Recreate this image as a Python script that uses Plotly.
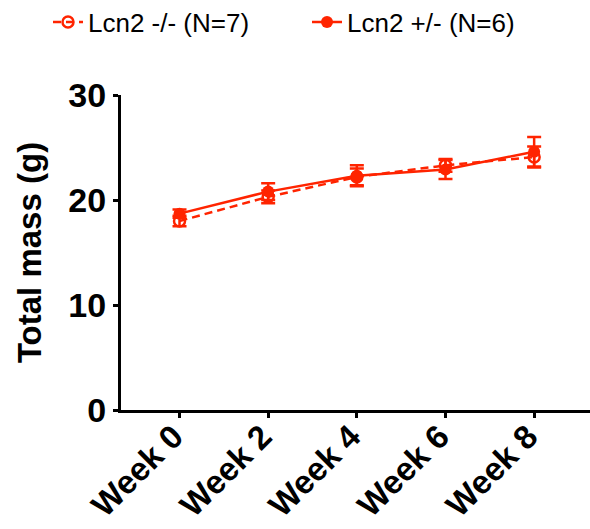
import plotly.graph_objects as go

weeks = ["Week 0", "Week 2", "Week 4", "Week 6", "Week 8"]
ko_mean = [18.0, 20.3, 22.2, 23.3, 24.1]
ko_err = [0.5, 0.6, 0.8, 0.6, 1.0]
het_mean = [18.7, 20.8, 22.3, 22.9, 24.6]
het_err = [0.4, 0.8, 1.0, 0.9, 1.4]
y_ticks = [0, 10, 20, 30]

RED = "#FF2400"
FONT = "Liberation Sans, Arial, sans-serif"
W, H = 590, 529

fig = go.Figure()
fig.add_trace(go.Scatter(
    x=weeks, y=ko_mean, name="Lcn2 -/- (N=7)", mode="lines+markers",
    line=dict(color=RED, width=2.5, dash="8px,5px"),
    marker=dict(symbol="circle-open", size=11, color=RED, line=dict(width=2.5, color=RED)),
    error_y=dict(type="data", array=ko_err, color=RED, thickness=2.5, width=7),
    legend="legend",
))
fig.add_trace(go.Scatter(
    x=weeks, y=het_mean, name="Lcn2 +/- (N=6)", mode="lines+markers",
    line=dict(color=RED, width=2.5),
    marker=dict(symbol="circle", size=12, color=RED),
    error_y=dict(type="data", array=het_err, color=RED, thickness=2.5, width=7),
    legend="legend2",
))

leg_common = dict(
    orientation="h", xref="container", yref="container",
    xanchor="left", yanchor="middle", y=1.0 - 22 / H,
    font=dict(size=26, family=FONT, color="black"),
    itemwidth=30, bgcolor="rgba(0,0,0,0)",
)

fig.update_layout(
    width=W, height=H,
    margin=dict(l=121, r=0, t=95, b=119, autoexpand=False),
    paper_bgcolor="white", plot_bgcolor="white",
    font=dict(family=FONT, color="black"),
    showlegend=True,
    legend=dict(x=48 / W, **leg_common),
    legend2=dict(x=307 / W, **leg_common),
    xaxis=dict(
        type="category", range=[-0.66, 4.63], automargin=False,
        showline=True, linecolor="black", linewidth=3,
        ticks="outside", ticklen=5, tickwidth=3, tickcolor="black",
        tickangle=-45, showgrid=False, zeroline=False,
        ticklabelstandoff=-14, ticklabelshift=-6,
        tickfont=dict(size=33, family=FONT, color="black", weight="bold"),
    ),
    yaxis=dict(
        range=[0, 30], tickvals=y_ticks, automargin=False,
        showline=True, linecolor="black", linewidth=3,
        ticks="outside", ticklen=5, tickwidth=3, tickcolor="black",
        showgrid=False, zeroline=False,
        tickfont=dict(size=34, family=FONT, color="black", weight="bold"),
        title=dict(text="Total mass (g)", standoff=17,
                   font=dict(size=33, family=FONT, color="black", weight="bold")),
    ),
)

fig.write_html(
    "out.html",
    config={"displayModeBar": False},
    post_script="document.body.style.margin='0';document.body.style.overflow='hidden';",
)
